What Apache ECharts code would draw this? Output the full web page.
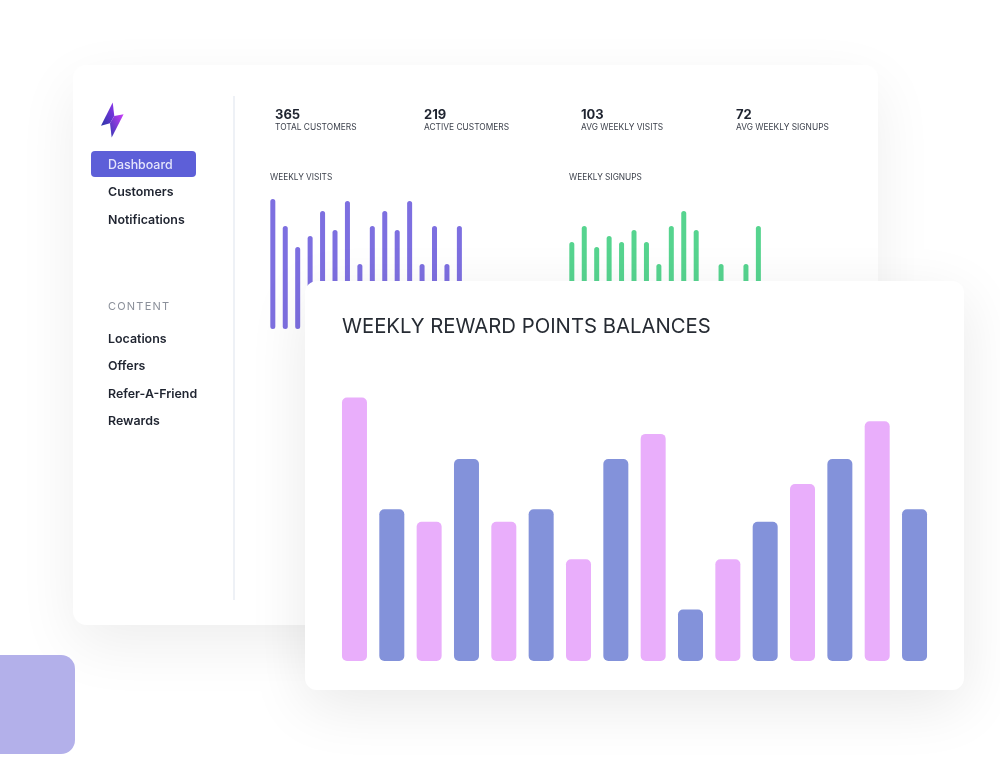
<!DOCTYPE html>
<html>
<head>
<meta charset="utf-8">
<title>Weekly reward points balances</title>
<script src="https://cdn.jsdelivr.net/npm/echarts@6/dist/echarts.min.js"></script>
<style>
  html, body { margin: 0; padding: 0; background: #fff; }
  body { width: 1000px; height: 760px; position: relative; overflow: hidden; font-family: Inter, "Noto Sans", sans-serif; color: #1f2430; }
  #page { position: absolute; left: 0; top: 0; width: 1000px; height: 760px; filter: blur(0.35px); }
  .abs { position: absolute; white-space: nowrap; }
  #square { position: absolute; left: -30px; top: 655px; width: 105px; height: 99px; background: #b3b0ea; border-radius: 14px; }
  #backCard { position: absolute; left: 73px; top: 65px; width: 805px; height: 560px; background: #fff; border-radius: 14px; box-shadow: 0 20px 60px rgba(0,0,0,.07); }
  #frontCard { position: absolute; left: 305px; top: 281px; width: 659px; height: 409px; background: #fff; border-radius: 12px; box-shadow: 0 16px 60px rgba(0,0,0,.09); }
  #divider { position: absolute; left: 233px; top: 96px; width: 1.5px; height: 504px; background: #eef1f6; }
  #active { position: absolute; left: 91px; top: 151px; width: 105px; height: 26px; background: #5d5fd8; border-radius: 4px; }
  .nav { font-size: 12.4px; font-weight: 600; line-height: 16px; }
  .num { font-size: 13px; font-weight: 700; line-height: 14px; }
  .lbl { font-size: 8.4px; line-height: 10px; color: #3a3f4a; }
  #visits { position: absolute; left: 266px; top: 165px; width: 210px; height: 175px; }
  #signups { position: absolute; left: 565px; top: 165px; width: 210px; height: 175px; }
  #rewards { position: absolute; left: 305px; top: 281px; width: 659px; height: 409px; }
</style>
</head>
<body>
<div id="page">
<div id="backCard"></div>
<div id="square"></div>
<div id="divider"></div>

<svg class="abs" style="left:98px;top:100px" width="28" height="40" viewBox="98 100 28 40">
  <defs>
    <linearGradient id="boltA" x1="0" y1="1" x2="1" y2="0"><stop offset="0" stop-color="#2a36a6"/><stop offset="1" stop-color="#8f35ee"/></linearGradient>
    <linearGradient id="boltB" x1="1" y1="0" x2="0" y2="1"><stop offset="0" stop-color="#cb3df8"/><stop offset="1" stop-color="#3438b4"/></linearGradient>
  </defs>
  <polygon points="112.7,102.5 101,125.8 110,123.3 114.3,116" fill="url(#boltA)"/>
  <polygon points="123.6,114.2 114.3,116 110,123.3 111.7,137.5" fill="url(#boltB)"/>
</svg>

<div id="active"></div>
<div class="abs nav" style="left:108px;top:157px;color:#e4e4fb;font-weight:500">Dashboard</div>
<div class="abs nav" style="left:108px;top:184px">Customers</div>
<div class="abs nav" style="left:108px;top:212px">Notifications</div>
<div class="abs" style="left:108px;top:300px;font-size:11px;line-height:13px;letter-spacing:1.2px;color:#8b909a">CONTENT</div>
<div class="abs nav" style="left:108px;top:331px">Locations</div>
<div class="abs nav" style="left:108px;top:358px">Offers</div>
<div class="abs nav" style="left:108px;top:386px">Refer-A-Friend</div>
<div class="abs nav" style="left:108px;top:413px">Rewards</div>

<div class="abs num" style="left:275px;top:107px">365</div>
<div class="abs lbl" style="left:275px;top:122px">TOTAL CUSTOMERS</div>
<div class="abs num" style="left:424px;top:107px">219</div>
<div class="abs lbl" style="left:424px;top:122px">ACTIVE CUSTOMERS</div>
<div class="abs num" style="left:581px;top:107px">103</div>
<div class="abs lbl" style="left:581px;top:122px">AVG WEEKLY VISITS</div>
<div class="abs num" style="left:736px;top:107px">72</div>
<div class="abs lbl" style="left:736px;top:122px">AVG WEEKLY SIGNUPS</div>

<div id="visits"></div>
<div id="signups"></div>
<div id="frontCard"></div>
<div id="rewards"></div>
</div>

<script>
var weeks = ['1', '2', '3', '4', '5', '6', '7', '8', '9', '10', '11', '12', '13', '14', '15', '16'];
var visitValues = [130, 103, 82, 93, 118, 99, 128, 65, 103, 118, 99, 128, 65, 103, 65, 103];
// the two gaps in signups are bars hidden behind the front card, heights are a guess
var signupValues = [87, 103, 82, 93, 87, 99, 87, 65, 103, 118, 99, 40, 65, 40, 65, 103];
var rewardValues = [21, 12.1, 11.1, 16.1, 11.1, 12.1, 8.1, 16.1, 18.1, 4.1, 8.1, 11.1, 14.1, 16.1, 19.1, 12.1];
var rewardColors = ['#e9aefb', '#8392da'];

function smallChart(id, title, values, color) {
    var chart = echarts.init(document.getElementById(id));
    chart.setOption({
        animation: false,
        title: {
            text: title, left: -1, top: 4,
            textStyle: { fontFamily: 'Inter', fontSize: 8.3, fontWeight: 'normal', color: '#3a3f4a' }
        },
        grid: { left: 0.6, top: 34, width: 199, height: 130 },
        xAxis: { type: 'category', data: weeks, show: false },
        yAxis: { type: 'value', min: 0, max: 130, show: false },
        series: [{
            type: 'bar', data: values, barWidth: 5,
            itemStyle: { color: color, borderRadius: 2.5 }
        }]
    });
}

smallChart('visits', 'WEEKLY VISITS', visitValues, '#7d6fe0');
smallChart('signups', 'WEEKLY SIGNUPS', signupValues, '#56d48f');

var rewardsChart = echarts.init(document.getElementById('rewards'));
rewardsChart.setOption({
    animation: false,
    title: {
        text: 'WEEKLY REWARD POINTS BALANCES', left: 32, top: 31,
        textStyle: { fontFamily: 'Inter', fontSize: 20.3, fontWeight: 'normal', color: '#262b33' }
    },
    grid: { left: 30.8, top: 116.5, width: 597.4, height: 263.5 },
    xAxis: { type: 'category', data: weeks, show: false },
    yAxis: { type: 'value', min: 0, max: 21, show: false },
    series: [{
        type: 'bar', data: rewardValues, barWidth: 25,
        itemStyle: {
            borderRadius: 5,
            color: function (p) { return rewardColors[p.dataIndex % 2]; }
        }
    }]
});
</script>
</body>
</html>
